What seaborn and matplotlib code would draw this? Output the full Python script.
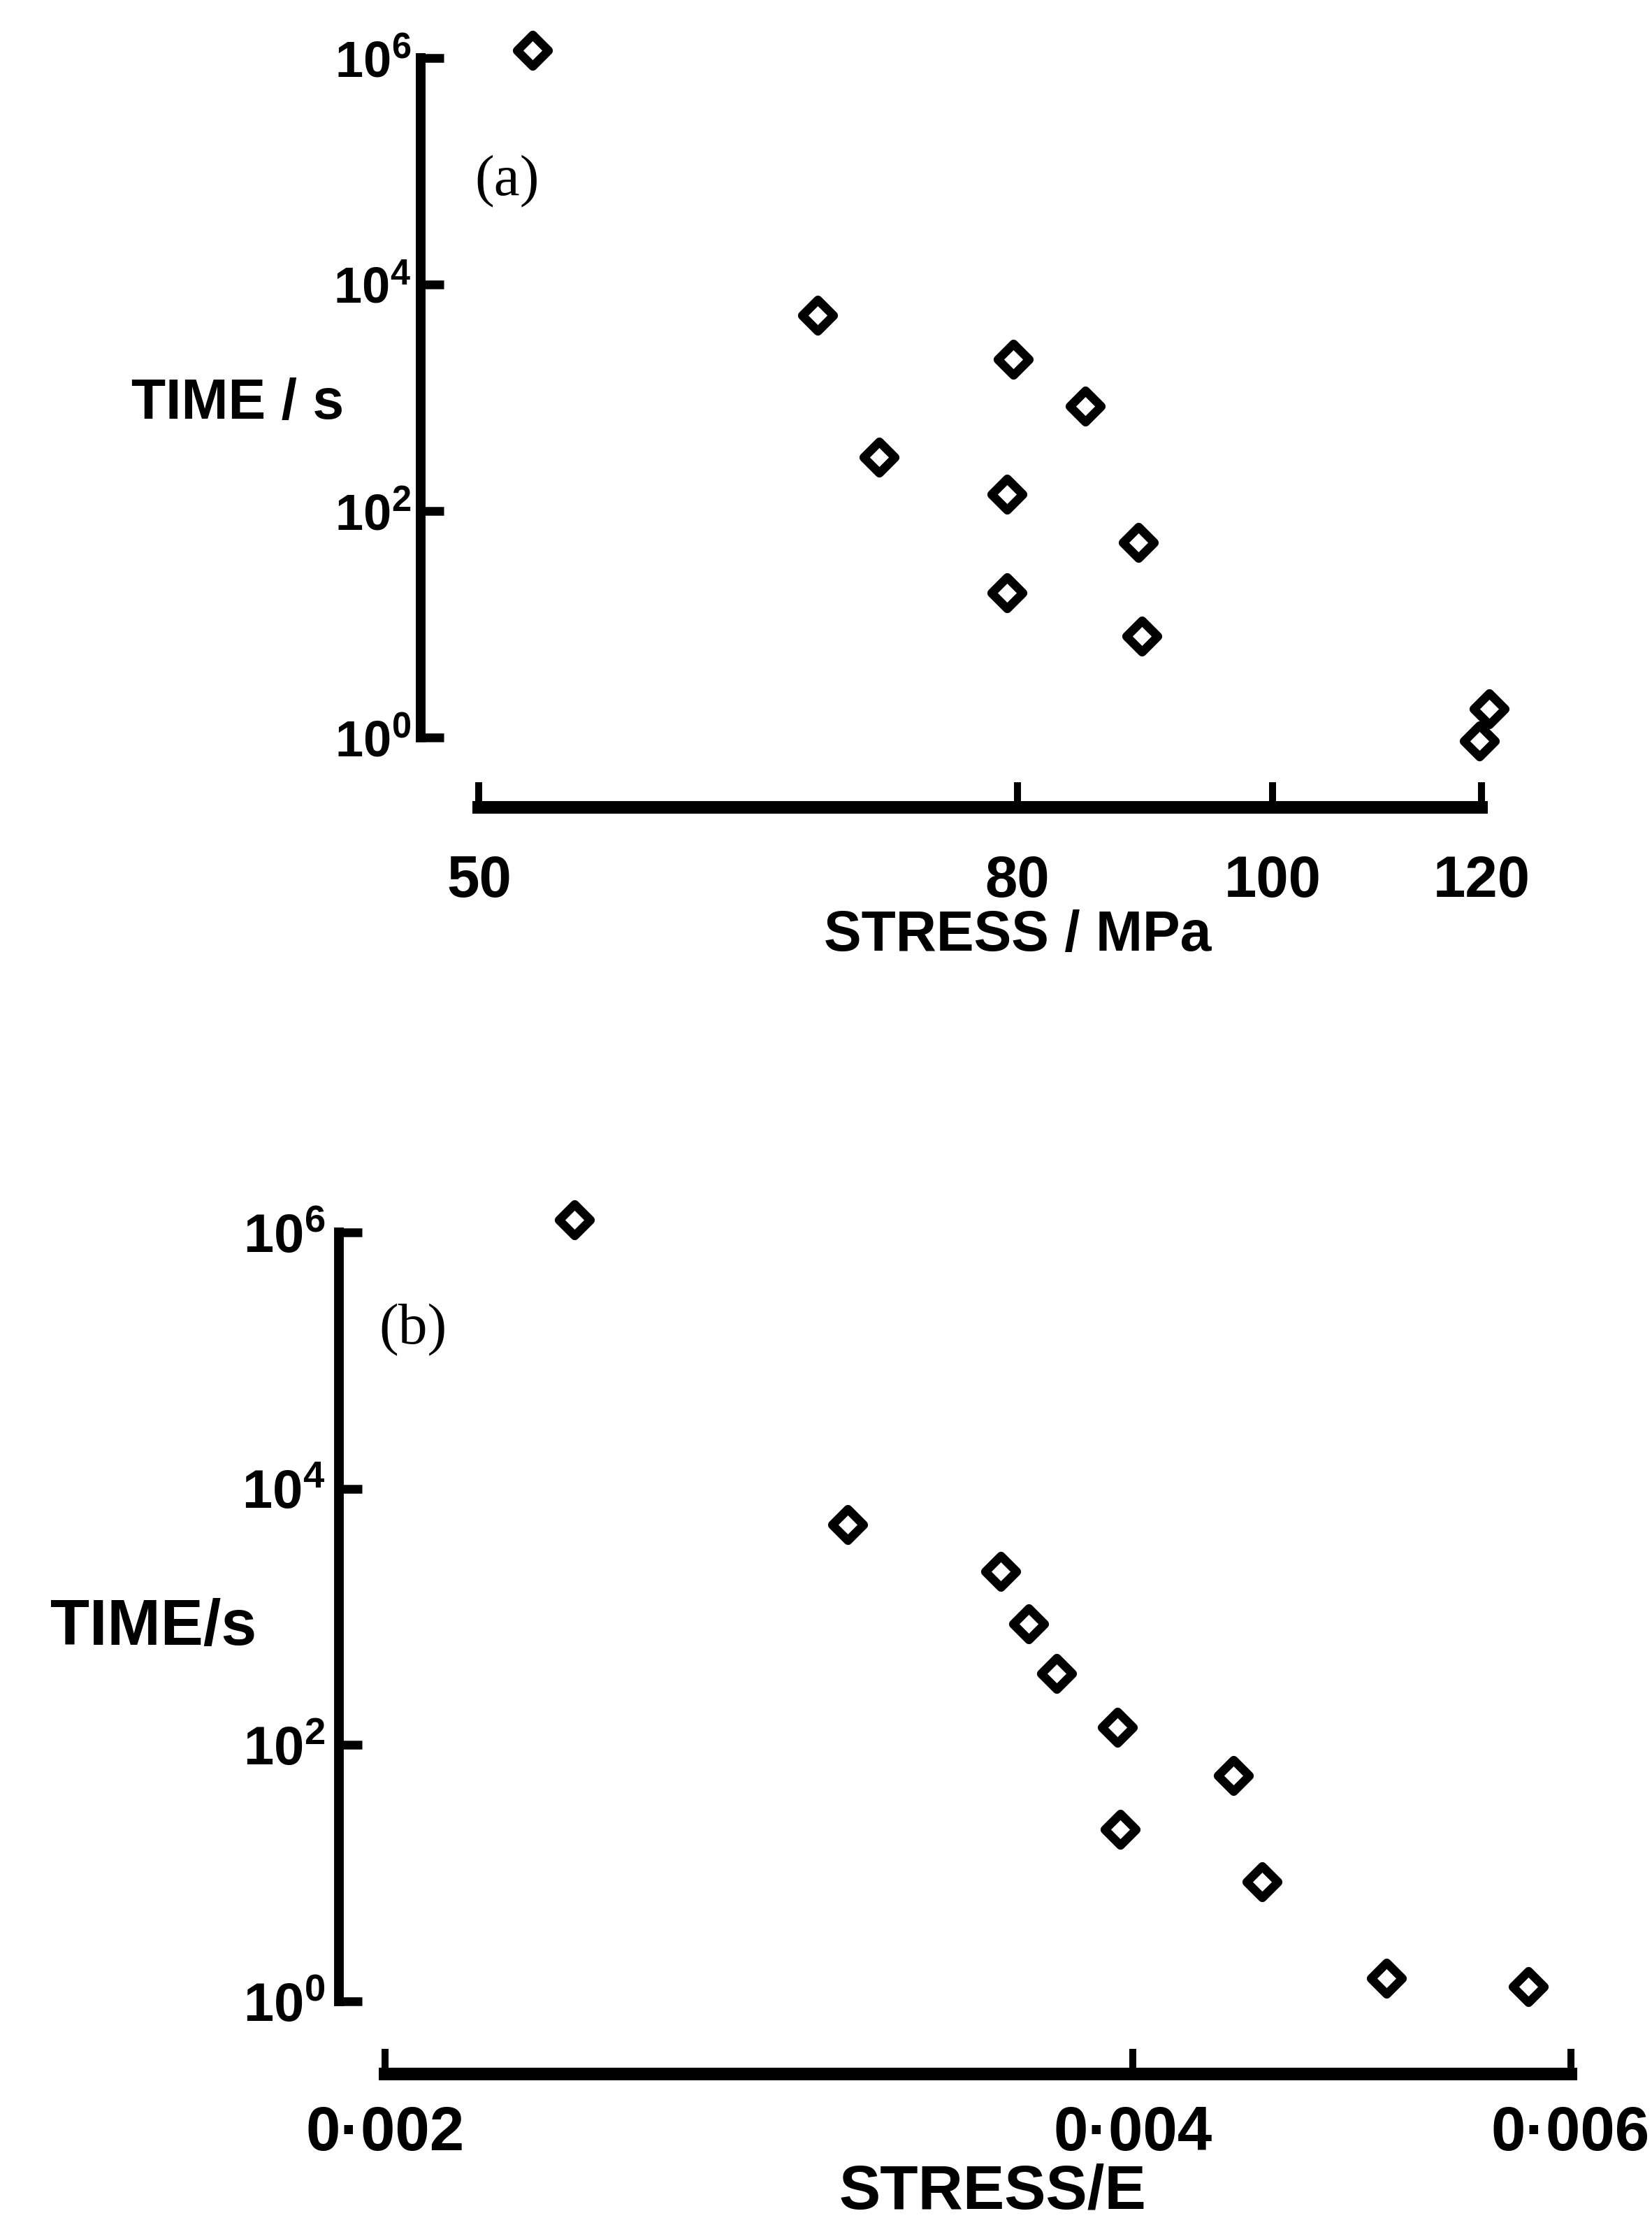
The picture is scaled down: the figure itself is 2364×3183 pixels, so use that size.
import matplotlib
matplotlib.use("Agg")
import matplotlib.pyplot as plt
import seaborn as sns
from matplotlib.ticker import FixedLocator, FixedFormatter, NullLocator

# ---------------- data ----------------
# Panel (a): time to failure vs stress (MPa)
stress_mpa = [52.4, 67.2, 70.9, 79.7, 79.3, 79.3, 84.9, 88.9, 89.2, 120.8, 119.8]
time_a = [1.16e6, 5340, 300, 2185, 141, 18.9, 845, 53, 7.9, 1.8, 0.93]

# Panel (b): time to failure vs stress / E
stress_e = [0.002383, 0.003070, 0.003538, 0.003630, 0.003726, 0.003943,
            0.003953, 0.004390, 0.004508, 0.005059, 0.005770]
time_b = [1.26e6, 5250, 2265, 883, 362, 138, 22, 58, 8.6, 1.51, 1.30]

xticks_a = [50, 80, 100, 120]
xticklabels_a = ["50", "80", "100", "120"]
xticks_b = [0.002, 0.004, 0.006]
xticklabels_b = ["0·002", "0·004", "0·006"]
yticks = [1, 1e2, 1e4, 1e6]
yticklabels = [r"$\mathrm{10^{0}}$", r"$\mathrm{10^{2}}$",
               r"$\mathrm{10^{4}}$", r"$\mathrm{10^{6}}$"]

# ---------------- style ----------------
sns.set_theme(style="ticks")
plt.rcParams["font.family"] = ["Liberation Sans", "DejaVu Sans"]
plt.rcParams["font.weight"] = "bold"
plt.rcParams["mathtext.fontset"] = "custom"
plt.rcParams["mathtext.rm"] = "Liberation Sans:bold"
plt.rcParams["mathtext.it"] = "Liberation Sans:bold"
plt.rcParams["mathtext.bf"] = "Liberation Sans:bold"

W, H, DPI = 2364, 3183, 200
fig = plt.figure(figsize=(W / DPI, H / DPI), dpi=DPI)
fig.patch.set_facecolor("white")


def px_axes(left, top, right, bottom):
    return fig.add_axes([left / W, 1 - bottom / H, (right - left) / W, (bottom - top) / H])


ax_a = px_axes(602, 40, 2170, 1155)
ax_b = px_axes(485, 1700, 2290, 2967)

marker_kw = dict(marker="D", s=130, color="white", edgecolor="black", linewidth=4.5, zorder=5,
                 clip_on=False)
sns.scatterplot(x=stress_mpa, y=time_a, ax=ax_a, **marker_kw)
sns.scatterplot(x=stress_e, y=time_b, ax=ax_b, **marker_kw)

panels = [
    (ax_a, (47.52, 123.7), (10 ** -0.617, 10 ** 6.265), xticks_a, xticklabels_a,
     dict(x_fs=30, y_fs=26, x_pad=24, y_pad=5, ylab_fs=29, xlab_fs=29,
          ylabel="TIME / s", ylab_pos=(-0.167, 0.5175),
          xlabel="STRESS / MPa", xlab_pos=(0.545, -0.165),
          tag="(a)", tag_pos=(0.079, 0.803))),
    (ax_b, (0.0019162, 0.006167), (10 ** -0.567, 10 ** 6.345), xticks_b, xticklabels_b,
     dict(x_fs=32, y_fs=28, x_pad=16, y_pad=7, ylab_fs=33, xlab_fs=32,
          ylabel="TIME/s", ylab_pos=(-0.147, 0.5036),
          xlabel="STRESS/E", xlab_pos=(0.518, -0.1335),
          tag="(b)", tag_pos=(0.059, 0.84))),
]

for ax, xlim, ylim, xt, xtl, o in panels:
    ax.set_xscale("log")
    ax.set_yscale("log")
    ax.set_xlim(*xlim)
    ax.set_ylim(*ylim)
    ax.set_facecolor("white")
    for side in ("top", "right"):
        ax.spines[side].set_visible(False)
    ax.spines["left"].set_bounds(yticks[0], yticks[-1])
    ax.spines["bottom"].set_bounds(xt[0], xt[-1])
    ax.spines["left"].set_linewidth(5)
    ax.spines["bottom"].set_linewidth(6.5)
    ax.spines["left"].set_color("black")
    ax.spines["bottom"].set_color("black")

    ax.xaxis.set_major_locator(FixedLocator(xt))
    ax.xaxis.set_major_formatter(FixedFormatter(xtl))
    ax.xaxis.set_minor_locator(NullLocator())
    ax.yaxis.set_major_locator(FixedLocator(yticks))
    ax.yaxis.set_major_formatter(FixedFormatter(yticklabels))
    ax.yaxis.set_minor_locator(NullLocator())

    ax.tick_params(axis="x", direction="in", length=13, width=3.6, color="black",
                   labelsize=o["x_fs"], pad=o["x_pad"], labelcolor="black")
    ax.tick_params(axis="y", direction="in", length=12, width=4.5, color="black",
                   labelsize=o["y_fs"], pad=o["y_pad"], labelcolor="black")
    for lab in ax.get_xticklabels() + ax.get_yticklabels():
        lab.set_fontweight("bold")

    ax.set_ylabel(o["ylabel"], rotation=0, fontsize=o["ylab_fs"], fontweight="bold",
                  ha="center", va="center", color="black")
    ax.yaxis.set_label_coords(*o["ylab_pos"])
    ax.set_xlabel(o["xlabel"], fontsize=o["xlab_fs"],
                  fontweight="bold", ha="center", va="center", color="black")
    ax.xaxis.set_label_coords(*o["xlab_pos"])

    ax.text(*o["tag_pos"], o["tag"], transform=ax.transAxes, fontsize=30,
            family=["Liberation Serif", "DejaVu Serif"], fontweight="normal",
            ha="center", va="center", color="black")

fig.savefig("out.png", dpi=DPI, facecolor="white")
